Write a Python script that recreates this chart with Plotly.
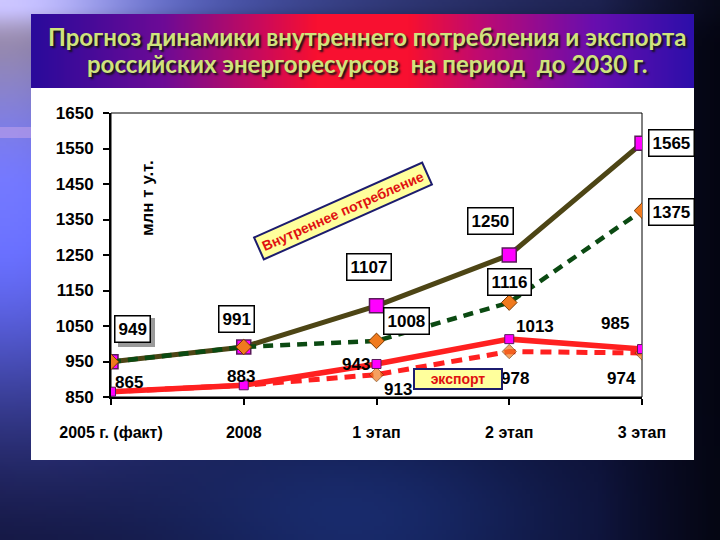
import base64, struct, zlib
import numpy as np
import plotly.graph_objects as go

# ---------------- data ----------------
categories = ["2005 г. (факт)", "2008", "1 этап", "2 этап", "3 этап"]
domestic_high = [949, 991, 1107, 1250, 1565]   # solid olive line
domestic_low = [949, 991, 1008, 1116, 1375]    # dashed green line
export_high = [865, 883, 943, 1013, 985]       # solid red line
export_low = [865, 883, 913, 978, 974]         # dashed red line
y_ticks = [850, 950, 1050, 1150, 1250, 1350, 1450, 1550, 1650]

title_line1 = "Прогноз динамики внутреннего потребления и экспорта"
title_line2 = "российских энергоресурсов  на период  до 2030 г."

# ---------------- geometry ----------------
W, H = 720, 540
ML, MR, MT, MB = 111, 78, 113, 143
PW, PH = W - ML - MR, H - MT - MB


def px_x(p):
    return (p - ML) / PW


def px_y(p):
    return 1 - (p - MT) / PH


def png_uri(arr):
    h, w, _ = arr.shape
    raw = b"".join(b"\x00" + arr[r].tobytes() for r in range(h))

    def chunk(t, d):
        c = struct.pack(">I", len(d)) + t + d
        return c + struct.pack(">I", zlib.crc32(t + d) & 0xFFFFFFFF)

    png = (b"\x89PNG\r\n\x1a\n"
           + chunk(b"IHDR", struct.pack(">IIBBBBB", w, h, 8, 2, 0, 0, 0))
           + chunk(b"IDAT", zlib.compress(raw, 9))
           + chunk(b"IEND", b""))
    return "data:image/png;base64," + base64.b64encode(png).decode()


# background slide texture
bw, bh = 180, 135
X, Y = np.meshgrid(np.linspace(0, W, bw), np.linspace(0, H, bh))
img = np.zeros((bh, bw, 3), float)
img[:] = (12, 14, 46)
g1 = np.exp(-(X ** 2) / (2 * 150 ** 2) - ((Y - 220) ** 2) / (2 * 150 ** 2))
img += g1[..., None] * np.array([95, 100, 215])
g2 = np.exp(-(X ** 2 + Y ** 2) / (2 * 90 ** 2))
img += g2[..., None] * np.array([100, 80, 20])
g3 = np.exp(-(Y ** 2) / (2 * 18 ** 2) - (X ** 2) / (2 * 380 ** 2))
img += g3[..., None] * np.array([60, 70, 120])
g4 = np.exp(-((X - 360) ** 2) / (2 * 150 ** 2) - ((Y - 520) ** 2) / (2 * 80 ** 2))
img += g4[..., None] * np.array([12, 28, 60])
dark = np.clip((X - 600) / 120, 0, 1)
img *= (1 - 0.6 * dark)[..., None]
bg_img = np.clip(img, 0, 255).astype(np.uint8)

# banner gradient
stops = [0, 0.2, 0.35, 0.43, 0.57, 0.68, 0.85, 1]
cols = np.array([(42, 10, 155), (110, 10, 150), (205, 10, 90), (248, 16, 48),
                 (248, 16, 48), (190, 10, 115), (105, 14, 175), (45, 15, 170)])
xs = np.linspace(0, 1, 300)
ban = np.stack([np.interp(xs, stops, cols[:, k]) for k in range(3)], axis=-1)
ban_img = np.repeat(ban[None, :, :], 6, axis=0).astype(np.uint8)

fig = go.Figure()

NUMF = "Liberation Sans, Arial, sans-serif"
ARIAL = "Liberation Sans, Arial, sans-serif"

fig.add_trace(go.Scatter(
    x=list(range(5)), y=domestic_high, mode="lines+markers",
    line=dict(color="#4d4515", width=5),
    marker=dict(symbol="square", size=14, color="#ff00ff",
                line=dict(color="#5a1a5a", width=1.5)),
    showlegend=False, hoverinfo="skip"))
fig.add_trace(go.Scatter(
    x=list(range(5)), y=domestic_low, mode="lines+markers",
    line=dict(color="#0b4a12", width=4.5, dash="10px,7px"),
    marker=dict(symbol="diamond", size=12, color="#f07a1e",
                line=dict(color="#7a3a00", width=1)),
    showlegend=False, hoverinfo="skip"))
fig.add_trace(go.Scatter(
    x=list(range(5)), y=export_low, mode="lines+markers",
    line=dict(color="#ff2020", width=5, dash="11px,7px"),
    marker=dict(symbol="diamond", size=[0, 0, 11, 11, 11], color="#f07a1e",
                line=dict(color="#7a3a00", width=1)),
    showlegend=False, hoverinfo="skip"))
fig.add_trace(go.Scatter(
    x=list(range(5)), y=export_high, mode="lines+markers",
    line=dict(color="#ff2020", width=5.5),
    marker=dict(symbol="square", size=9, color="#ff00ff",
                line=dict(color="#5a1a5a", width=1)),
    showlegend=False, hoverinfo="skip"))

ann = []
shapes = []
# boxed labels (domestic)
box_font = dict(family=NUMF, size=17, color="#000000", weight="bold")
dh_off = [(21, 33), (-7, 28), (-8, 39), (-19, 34), (29, 0)]
dl_off = [None, None, (30, 20), (0, 21), (29, -1)]
for i, v in enumerate(domestic_high):
    dx, dy = dh_off[i]
    if i == 0:
        # drop shadow behind the first box (offset copy with grey fill)
        ann.append(dict(x=i, y=v, xshift=dx + 4, yshift=dy - 4, text=" ",
                        showarrow=False, xanchor="center", yanchor="middle",
                        width=28, height=20,
                        font=dict(family=NUMF, size=17, color="#9a9a9a"),
                        bgcolor="#9a9a9a", bordercolor="#9a9a9a",
                        borderwidth=1.5, borderpad=3))
    ann.append(dict(x=i, y=v, xshift=dx, yshift=dy, text=str(v), showarrow=False,
                    xanchor="center", yanchor="middle",
                    font=box_font, bgcolor="#ffffff", bordercolor="#000000",
                    borderwidth=1.5, borderpad=3))
for i, v in enumerate(domestic_low):
    if dl_off[i] is None:
        continue
    dx, dy = dl_off[i]
    ann.append(dict(x=i, y=v, xshift=dx, yshift=dy, text=str(v), showarrow=False,
                    xanchor="center", yanchor="middle",
                    font=box_font, bgcolor="#ffffff", bordercolor="#000000",
                    borderwidth=1.5, borderpad=3))
# plain labels (export)
plain_font = dict(family=NUMF, size=17, color="#000000", weight="bold")
eh_off = [(18, 9), (-3, 9), (-21, -1), (26, 13), (-27, 26)]
el_off = [None, None, (21, -15), (6, -27), (-21, -26)]
for i, v in enumerate(export_high):
    dx, dy = eh_off[i]
    ann.append(dict(x=i, y=v, xshift=dx, yshift=dy, text=str(v), showarrow=False,
                    xanchor="center", yanchor="middle", font=plain_font))
for i, v in enumerate(export_low):
    if el_off[i] is None:
        continue
    dx, dy = el_off[i]
    ann.append(dict(x=i, y=v, xshift=dx, yshift=dy, text=str(v), showarrow=False,
                    xanchor="center", yanchor="middle", font=plain_font))

# series name tags
ann.append(dict(xref="paper", yref="paper", x=px_x(343), y=px_y(211),
                xanchor="center", yanchor="middle",
                text="Внутреннее потребление", textangle=-24, showarrow=False,
                font=dict(family=ARIAL, size=14, color="#e01010", weight="bold"),
                bgcolor="#ffff9c", bordercolor="#1c1c6e", borderwidth=2, borderpad=3))
ann.append(dict(xref="paper", yref="paper", x=px_x(458), y=px_y(379),
                xanchor="center", yanchor="middle",
                text="экспорт", showarrow=False, width=84, height=16,
                font=dict(family=ARIAL, size=14, color="#e01010", weight="bold"),
                bgcolor="#ffff9c", bordercolor="#1c1c6e", borderwidth=2, borderpad=1))
# unit label
ann.append(dict(xref="paper", yref="paper", x=px_x(147), y=px_y(198),
                xanchor="center", yanchor="middle",
                text="млн т у.т.", textangle=-90, showarrow=False,
                font=dict(family=ARIAL, size=17, color="#000000", weight="bold")))
# title
title_font = dict(family="Lato, Open Sans, sans-serif", size=24, color="#cfe47c",
                  weight="bold", shadow="2px 2px 2px #151515")
ann.append(dict(xref="paper", yref="paper", x=px_x(367), y=px_y(36), text=title_line1,
                xanchor="center", yanchor="middle", showarrow=False, font=title_font))
ann.append(dict(xref="paper", yref="paper", x=px_x(367), y=px_y(63), text=title_line2,
                xanchor="center", yanchor="middle", showarrow=False, font=title_font))

shapes += [
    dict(type="rect", xref="paper", yref="paper", layer="below",
         x0=px_x(31), x1=px_x(694), y0=px_y(460), y1=px_y(88),
         fillcolor="#ffffff", line=dict(width=0)),
    dict(type="rect", xref="paper", yref="paper", layer="below",
         x0=px_x(0), x1=px_x(31), y0=px_y(138), y1=px_y(127),
         fillcolor="rgba(210,170,235,0.45)", line=dict(width=0)),
    dict(type="rect", xref="paper", yref="paper", layer="below",
         x0=0, x1=1, y0=0, y1=1, line=dict(color="#000000", width=1)),
]

images = [
    dict(source=png_uri(bg_img), xref="paper", yref="paper",
         x=px_x(0), y=px_y(0), sizex=W / PW, sizey=H / PH,
         sizing="stretch", xanchor="left", yanchor="top", layer="below"),
    dict(source=png_uri(ban_img), xref="paper", yref="paper",
         x=px_x(31), y=px_y(14), sizex=663 / PW, sizey=74 / PH,
         sizing="stretch", xanchor="left", yanchor="top", layer="below"),
]

fig.update_layout(
    width=W, height=H,
    margin=dict(l=ML, r=MR, t=MT, b=MB, pad=0),
    paper_bgcolor="#0c0f32", plot_bgcolor="rgba(0,0,0,0)",
    annotations=ann, shapes=shapes, images=images,
    xaxis=dict(range=[0, 4], tickvals=list(range(5)), ticktext=categories,
               showgrid=False, zeroline=False, showline=True, linecolor="#000000",
               linewidth=2, ticks="outside", ticklen=6, tickwidth=2, tickcolor="#000000",
               ticklabelstandoff=14,
               tickfont=dict(family=NUMF, size=16, color="#000000", weight="bold")),
    yaxis=dict(range=[850, 1650], tickvals=y_ticks, showgrid=False, zeroline=False,
               showline=True, linecolor="#000000", linewidth=2, ticks="outside",
               ticklen=6, tickwidth=2, tickcolor="#000000", ticklabelstandoff=6,
               tickfont=dict(family=NUMF, size=17, color="#000000", weight="bold")),
)

fig.write_html("out.html", config={"displayModeBar": False},
               post_script="document.body.style.margin='0';document.body.style.overflow='hidden';")
